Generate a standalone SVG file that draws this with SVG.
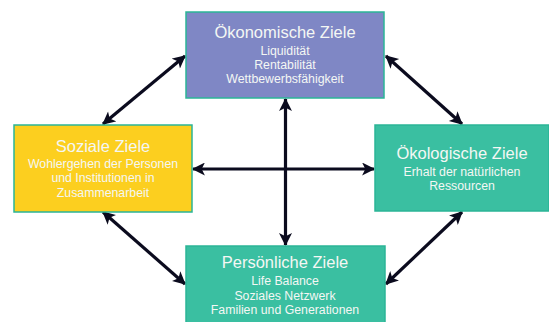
<svg xmlns="http://www.w3.org/2000/svg" width="549" height="322" viewBox="0 0 549 322">
<defs>
<style>
.box{stroke:#2bb597;stroke-width:1.5}
.t{font-family:"Liberation Sans",Arial,sans-serif;fill:#f4f7f4;text-anchor:middle}
.h{font-size:16.5px}
.s{font-size:12.3px}
.c{stroke:#0b0b1e;stroke-width:3.2;fill:none;marker-start:url(#ah);marker-end:url(#ah)}
</style>
<marker id="ah" viewBox="0 0 12 12" refX="11" refY="6" markerWidth="14" markerHeight="13" markerUnits="userSpaceOnUse" orient="auto-start-reverse">
<path d="M0,0 L12,6 L0,12 L3,6 Z" fill="#0b0b1e"/>
</marker>
</defs>
<rect width="549" height="322" fill="#ffffff"/>
<g id="connectors">
<line class="c" x1="103" y1="124" x2="185" y2="56"/>
<line class="c" x1="386" y1="56" x2="462" y2="124"/>
<line class="c" x1="103" y1="212" x2="185" y2="284"/>
<line class="c" x1="462" y1="212" x2="386" y2="284"/>
<line class="c" x1="193" y1="169" x2="374" y2="169"/>
<line class="c" x1="285.5" y1="99" x2="285.5" y2="245"/>
</g>
<g id="oekonomisch">
<rect class="box" x="186" y="12" width="198" height="86" fill="#7f87c5"/>
<text class="t h" x="285" y="38">Ökonomische Ziele</text>
<text class="t s" x="285" y="55">Liquidität</text>
<text class="t s" x="285" y="69">Rentabilität</text>
<text class="t s" x="285" y="83">Wettbewerbsfähigkeit</text>
</g>
<g id="sozial">
<rect class="box" x="14" y="125" width="178" height="87" fill="#fccf1f"/>
<text class="t h" x="103" y="152">Soziale Ziele</text>
<text class="t s" x="103" y="168">Wohlergehen der Personen</text>
<text class="t s" x="103" y="182">und Institutionen in</text>
<text class="t s" x="103" y="197">Zusammenarbeit</text>
</g>
<g id="oekologisch">
<rect class="box" x="375" y="125" width="174" height="86" fill="#3abfa1"/>
<text class="t h" x="462" y="159">Ökologische Ziele</text>
<text class="t s" x="462" y="176">Erhalt der natürlichen</text>
<text class="t s" x="462" y="190">Ressourcen</text>
</g>
<g id="persoenlich">
<rect class="box" x="186" y="246" width="199" height="78" fill="#3abfa1"/>
<text class="t h" x="285" y="268">Persönliche Ziele</text>
<text class="t s" x="285" y="285">Life Balance</text>
<text class="t s" x="285" y="300">Soziales Netzwerk</text>
<text class="t s" x="285" y="314">Familien und Generationen</text>
</g>
</svg>
